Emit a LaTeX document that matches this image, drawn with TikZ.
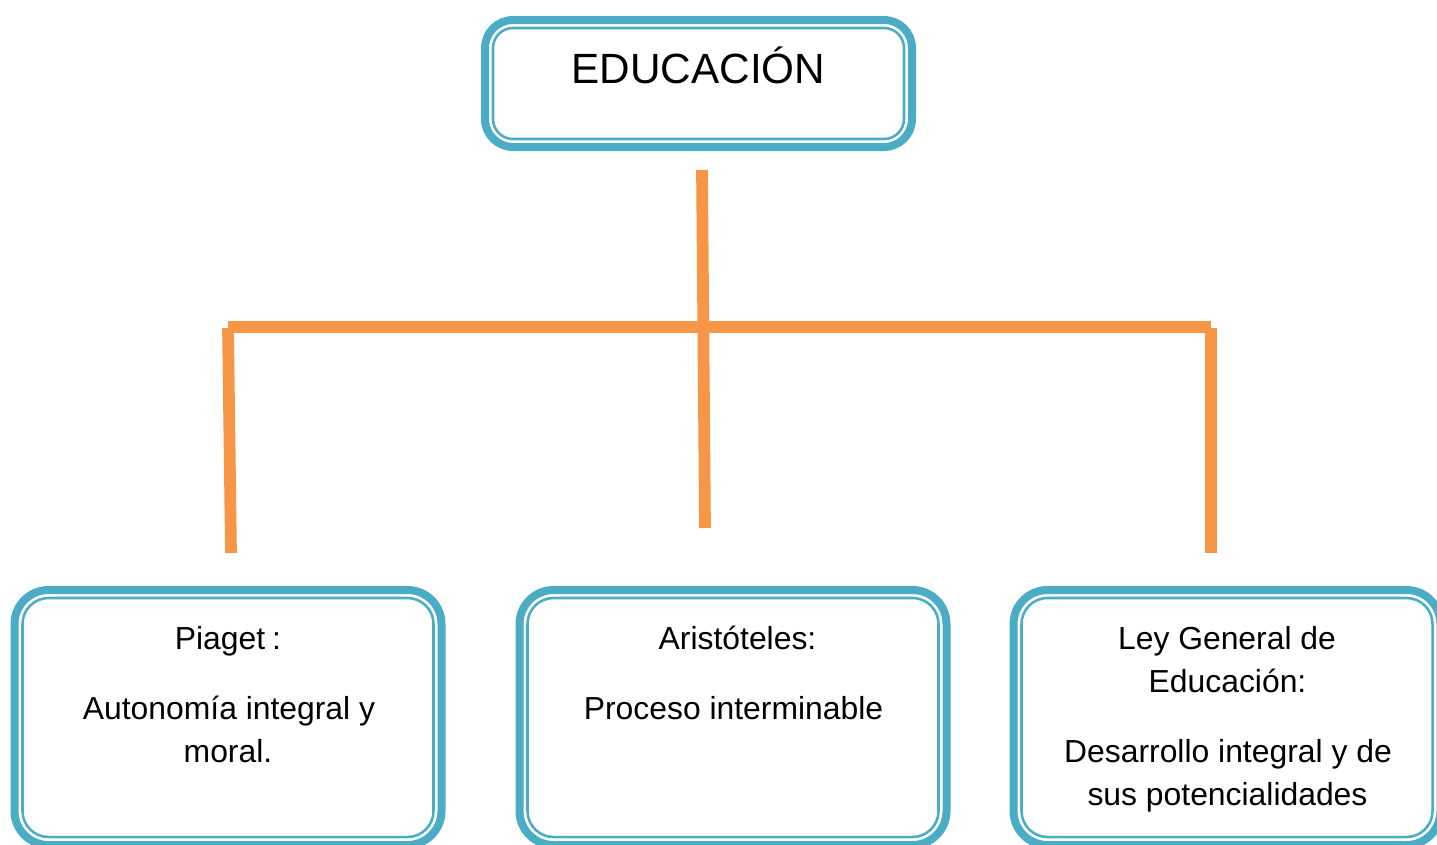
\documentclass[tikz,border=0pt]{standalone}
\usepackage{fontspec}
\setmainfont{Liberation Sans}
\definecolor{boxblue}{HTML}{4BACC6}
\definecolor{linkorange}{HTML}{F79646}
\tikzset{
  boxframe/.style={draw=boxblue, line width=6pt, rectangle, rounded corners=#1, inner sep=0pt, outer sep=0pt},
  innerframe/.style={draw=boxblue, line width=1.9pt, rounded corners=#1},
  link/.style={draw=linkorange, line width=8.8pt, line cap=butt},
  bigtxt/.style={font=\fontsize{31.7}{38}\selectfont, inner sep=0pt, anchor=base},
  txt/.style={font=\fontsize{23.9}{32.25}\selectfont, inner sep=0pt, anchor=base},
}
\begin{document}
\begin{tikzpicture}[x=0.75pt,y=-0.75pt]
\useasboundingbox (0,0) rectangle (1437,844);
\clip (0,0) rectangle (1437,844);
% boxes
\node[boxframe=21pt, minimum width=320.25pt, minimum height=95.25pt] (edu) at (698.5,83.5) {};
\node[boxframe=25.5pt, minimum width=320.25pt, minimum height=191.25pt] (piaget) at (228,717.5) {};
\node[boxframe=25.5pt, minimum width=320.25pt, minimum height=191.25pt] (arist) at (733,717.5) {};
\node[boxframe=25.5pt, minimum width=320.25pt, minimum height=191.25pt] (ley) at (1227,717.5) {};
\draw[innerframe=15pt] ([shift={(6pt,6pt)}]edu.south west) rectangle ([shift={(-6pt,-6pt)}]edu.north east);
\foreach \b in {piaget,arist,ley}
  \draw[innerframe=19.5pt] ([shift={(6pt,6pt)}]\b.south west) rectangle ([shift={(-6pt,-6pt)}]\b.north east);
% texts
\node[bigtxt] (tedu) at (698.5,83) {EDUCACIÓN};
\node[txt] (tp1) at (228,649) {Piaget\hspace{0.22em}:};
\node[txt] (tp2) at (229,719) {Autonomía integral y};
\node[txt] (tp3) at (228,762) {moral.};
\node[txt] (ta1) at (737.5,649) {Aristóteles:};
\node[txt] (ta2) at (733.5,719) {Proceso interminable};
\node[txt] (tl1) at (1227,649) {Ley General de};
\node[txt] (tl2) at (1227.5,692) {Educación:};
\node[txt] (tl3) at (1228,762) {Desarrollo integral y de};
\node[txt] (tl4) at (1227.5,805) {sus potencialidades};
% connectors
\coordinate (mtop) at (702,170);
\coordinate (mbot) at (705,528);
\coordinate (hl) at (228,327);
\coordinate (hr) at (1211,327);
\coordinate (ltop) at (228,328);
\coordinate (lbot) at (231,553);
\coordinate (rtop) at (1211,328);
\coordinate (rbot) at (1211,553);
\draw[link] (hl) -- (hr);
\draw[link] (mtop) -- (mbot);
\draw[link] (ltop) -- (lbot);
\draw[link] (rtop) -- (rbot);
\end{tikzpicture}
\end{document}
